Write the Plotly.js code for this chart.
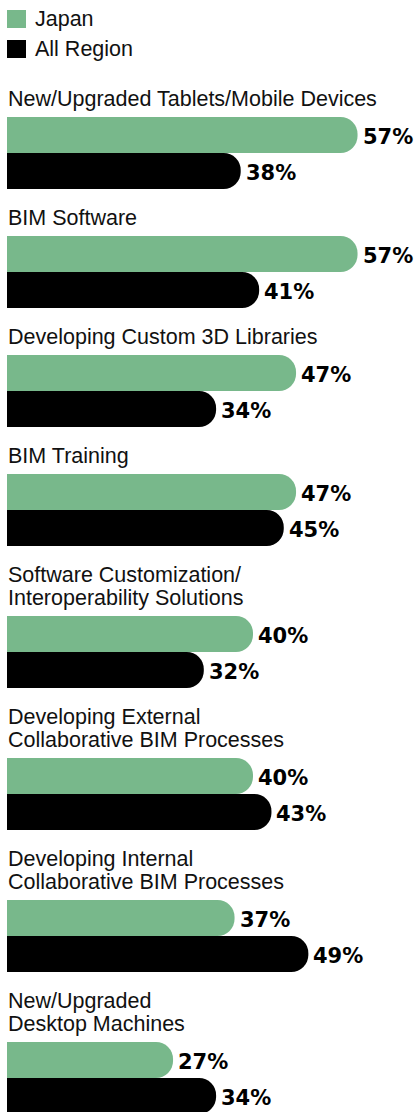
<!DOCTYPE html>
<html><head><meta charset="utf-8">
<script src="https://cdn.plot.ly/plotly-3.0.1.min.js"></script>
<style>html,body{margin:0;padding:0;background:#fff;overflow:hidden}</style>
</head><body>
<div id="chart" style="width:415px;height:1112px"></div>
<script>
// ---- data ----
const categories = [
  "New/Upgraded Tablets/Mobile Devices",
  "BIM Software",
  "Developing Custom 3D Libraries",
  "BIM Training",
  "Software Customization/<br>Interoperability Solutions",
  "Developing External<br>Collaborative BIM Processes",
  "Developing Internal<br>Collaborative BIM Processes",
  "New/Upgraded<br>Desktop Machines"
];
const seriesNames = ["Japan", "All Region"];
const japan = [57, 57, 47, 47, 40, 40, 37, 27];
const allRegion = [38, 41, 34, 45, 32, 43, 49, 34];

// ---- layout constants (pixels) ----
const W = 415, H = 1112;
const LEFT = 7, PX_PER_UNIT = 6.15;
const BAR_H = 36, LINE_H = 23, GAP = 24, FIRST_TOP = 117;
const colors = ["#78b88b", "#000000"];
const labelFont = {family: "Liberation Sans, Arial, sans-serif", size: 21.5, color: "#111111"};
const valueFont = {family: "DejaVu Sans, sans-serif", size: 21, color: "#000000", weight: 700};

// compute group tops from label line counts
const tops = [];
let t = FIRST_TOP;
categories.forEach((c, i) => {
  const n = c.split("<br>").length;
  if (i > 0) t += 2 * BAR_H + GAP + n * LINE_H;
  tops.push(t);
});
const yJ = tops.map(v => v + BAR_H / 2);
const yA = tops.map(v => v + BAR_H * 1.5);

const traces = [
  {type: "bar", orientation: "h", name: seriesNames[0], x: japan, y: yJ, width: BAR_H,
   marker: {color: colors[0], cornerradius: 17, line: {width: 0}}, hoverinfo: "none"},
  {type: "bar", orientation: "h", name: seriesNames[1], x: allRegion, y: yA, width: BAR_H,
   marker: {color: colors[1], cornerradius: 17, line: {width: 0}}, hoverinfo: "none"}
];

const annotations = [];
const shapes = [];
// category labels
categories.forEach((c, i) => {
  const lines = c.split("<br>");
  lines.forEach((ln, j) => {
    const baseline = tops[i] - 10 - (lines.length - 1 - j) * LINE_H;
    annotations.push({x: 0, xref: "x", xanchor: "left", y: baseline + 5, yref: "y", yanchor: "bottom",
      text: ln, showarrow: false, font: labelFont, borderpad: 0});
  });
});
// value labels
[japan, allRegion].forEach((arr, s) => {
  const ys = s === 0 ? yJ : yA;
  arr.forEach((v, i) => {
    annotations.push({x: v, xref: "x", xanchor: "left", xshift: 4, y: ys[i], yref: "y", yanchor: "middle",
      yshift: -2, text: v + "%", showarrow: false, font: valueFont, borderpad: 0});
  });
});
// legend
seriesNames.forEach((nm, s) => {
  const top = 10 + s * 30;
  shapes.push({type: "rect", xref: "paper", yref: "y", x0: 7 / W, x1: 26 / W, y0: top, y1: top + 18,
    fillcolor: colors[s], line: {width: 0}});
  annotations.push({x: 34 / W, xref: "paper", xanchor: "left", y: top + 17 + 5, yref: "y", yanchor: "bottom",
    text: nm, showarrow: false, font: {family: labelFont.family, size: 21.5, color: "#111111"}, borderpad: 0});
});

const layout = {
  width: W, height: H, margin: {l: 0, r: 0, t: 0, b: 0, pad: 0},
  paper_bgcolor: "#ffffff", plot_bgcolor: "#ffffff",
  showlegend: false, barmode: "overlay",
  xaxis: {range: [-LEFT / PX_PER_UNIT, (W - LEFT) / PX_PER_UNIT], visible: false, fixedrange: true},
  yaxis: {range: [H, 0], visible: false, fixedrange: true},
  annotations: annotations, shapes: shapes
};
Plotly.newPlot("chart", traces, layout, {staticPlot: true, displayModeBar: false});
</script>
</body></html>
